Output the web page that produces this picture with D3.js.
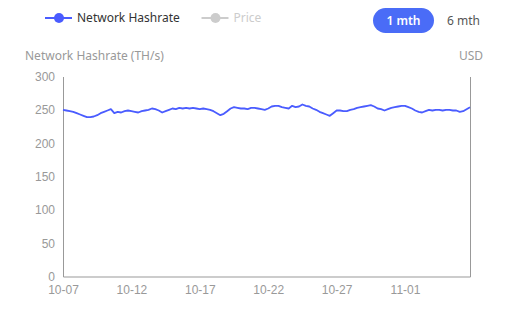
<!DOCTYPE html>
<html>
<head>
<meta charset="utf-8">
<script src="https://cdn.jsdelivr.net/npm/d3@7"></script>
<style>
  body { margin: 0; background: #fff; }
  svg { display: block; font-family: "Noto Sans", "DejaVu Sans", sans-serif; }
</style>
</head>
<body>
<svg id="chart" width="514" height="310"></svg>
<script>
// hashrate in TH/s, one reading every 6 hours starting 10-07 00:00
const startDate = new Date(2023, 9, 7)
const hashrate = [
  250, 249, 248, 247, 245, 243, 241, 239, 239, 240,
  242, 245, 247, 249, 251, 245, 247, 246, 248, 249,
  248, 247, 246, 248, 249, 250, 252, 251, 249, 246,
  248, 250, 252, 251, 253, 252, 253, 252, 253, 252,
  251, 252, 251, 250, 248, 245, 242, 244, 248, 252,
  254, 253, 252, 252, 251, 253, 253, 252, 251, 250,
  252, 255, 256, 256, 254, 253, 252, 256, 254, 255,
  258, 256, 255, 252, 250, 247, 245, 243, 241, 245,
  249, 249, 248, 248, 250, 251, 253, 254, 255, 256,
  257, 255, 252, 251, 249, 251, 253, 254, 255, 256,
  256, 254, 252, 249, 247, 246, 248, 250, 249, 250,
  250, 249, 250, 250, 249, 249, 247, 248, 251, 254
]
const yTicks = [0, 50, 100, 150, 200, 250, 300]
const xTickDays = ['2023-10-07', '2023-10-12', '2023-10-17', '2023-10-22', '2023-10-27', '2023-11-01']
const legendItems = [
  { name: 'Network Hashrate', color: '#4a5cff', text: '#333' },
  { name: 'Price', color: '#ccc', text: '#ccc' }
]
const ranges = ['1 mth', '6 mth']

const data = hashrate.map((v, i) => ({ date: d3.timeHour.offset(startDate, i * 6), value: v }))

const svg = d3.select('#chart')
const margin = { top: 76.5, right: 44, bottom: 33.5, left: 63 }
const width = 514, height = 310

const x = d3.scaleTime()
  .domain(d3.extent(data, d => d.date))
  .range([margin.left, width - margin.right])
const y = d3.scaleLinear()
  .domain([0, 300])
  .range([height - margin.bottom, margin.top])

const xTicks = xTickDays.map(d3.timeParse('%Y-%m-%d'))

// left axis
svg.append('g')
  .attr('transform', `translate(${margin.left},0)`)
  .call(d3.axisLeft(y).tickValues(yTicks).tickSize(0).tickPadding(8))
  .call(g => g.select('.domain').attr('stroke', '#999'))
  .call(g => g.selectAll('text').attr('fill', '#999').attr('font-size', 12))

// right axis (empty price axis)
svg.append('g')
  .attr('transform', `translate(${width - margin.right},0)`)
  .call(d3.axisRight(y).tickValues([]).tickSize(0))
  .call(g => g.select('.domain').attr('stroke', '#999'))

// bottom axis
svg.append('g')
  .attr('transform', `translate(0,${height - margin.bottom})`)
  .call(d3.axisBottom(x).tickValues(xTicks).tickFormat(d3.timeFormat('%m-%d')).tickSize(0).tickPadding(9))
  .call(g => g.select('.domain').attr('stroke', '#999'))
  .call(g => g.selectAll('text').attr('fill', '#999').attr('font-size', 12))

// axis titles
svg.append('text')
  .attr('x', 25).attr('y', 60)
  .attr('fill', '#999').attr('font-size', 12)
  .text('Network Hashrate (TH/s)')
svg.append('text')
  .attr('x', 483).attr('y', 60)
  .attr('text-anchor', 'end')
  .attr('fill', '#999').attr('font-size', 12)
  .text('USD')

// line
const line = d3.line()
  .x(d => x(d.date))
  .y(d => y(d.value))

svg.append('path')
  .datum(data)
  .attr('fill', 'none')
  .attr('stroke', '#4a5cff')
  .attr('stroke-width', 1.8)
  .attr('stroke-linejoin', 'round')
  .attr('d', line)

// legend
const legendX = [45, 201.5]
const legend = svg.append('g').selectAll('g')
  .data(legendItems)
  .join('g')
  .attr('transform', (d, i) => `translate(${legendX[i]},18)`)

legend.append('line')
  .attr('x1', 0).attr('x2', 27)
  .attr('stroke', d => d.color).attr('stroke-width', 2)
legend.append('circle')
  .attr('cx', 14).attr('r', 5)
  .attr('fill', d => d.color)
legend.append('text')
  .attr('x', 32).attr('dy', '0.35em')
  .attr('fill', d => d.text).attr('font-size', 12)
  .text(d => d.name)

// range buttons
svg.append('rect')
  .attr('x', 373).attr('y', 8)
  .attr('width', 61).attr('height', 25)
  .attr('rx', 12.5)
  .attr('fill', '#4a6cf7')

svg.append('g').selectAll('text')
  .data(ranges)
  .join('text')
  .attr('x', (d, i) => i === 0 ? 403.5 : 463.5)
  .attr('y', 21)
  .attr('dy', '0.35em')
  .attr('text-anchor', 'middle')
  .attr('font-size', 12)
  .attr('font-weight', (d, i) => i === 0 ? 600 : 'normal')
  .attr('fill', (d, i) => i === 0 ? '#fff' : '#555')
  .text(d => d)
</script>
</body>
</html>
